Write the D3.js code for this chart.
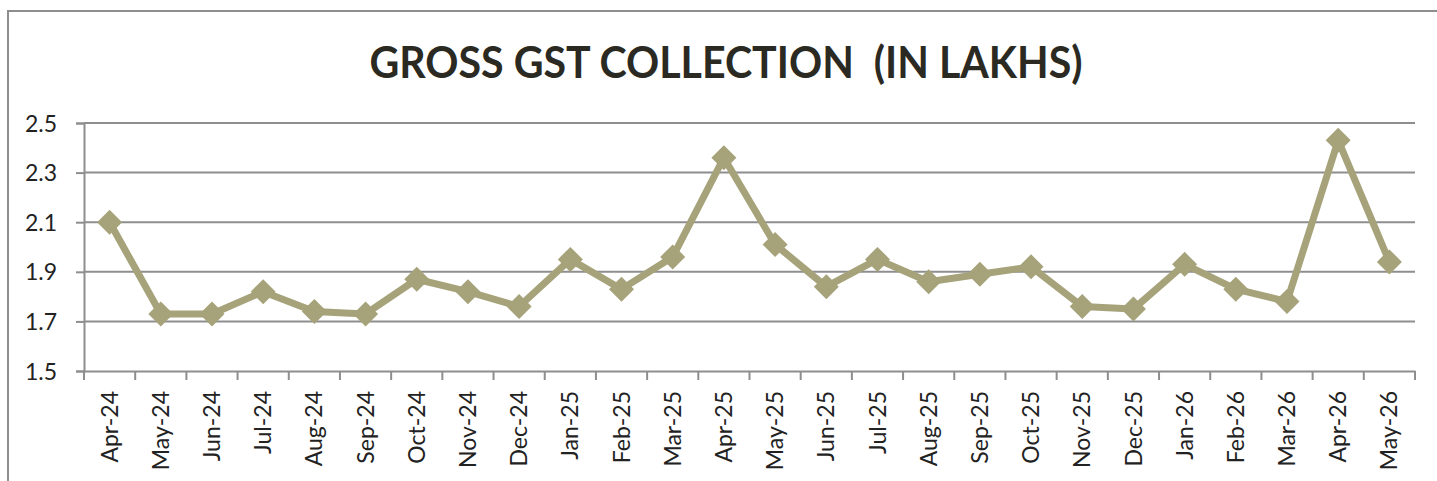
<!DOCTYPE html>
<html>
<head>
<meta charset="utf-8">
<script src="https://cdn.jsdelivr.net/npm/d3@7"></script>
<style>
  html, body { margin: 0; padding: 0; background: #fff; }
  svg { display: block; }
</style>
</head>
<body>
<svg id="chart" width="1437" height="481"></svg>
<script>
const titleText = "GROSS GST COLLECTION  (IN LAKHS)";
const categories = ["Apr-24","May-24","Jun-24","Jul-24","Aug-24","Sep-24","Oct-24","Nov-24","Dec-24",
  "Jan-25","Feb-25","Mar-25","Apr-25","May-25","Jun-25","Jul-25","Aug-25","Sep-25","Oct-25","Nov-25","Dec-25",
  "Jan-26","Feb-26","Mar-26","Apr-26","May-26"];
const values = [2.10,1.73,1.73,1.82,1.74,1.73,1.87,1.82,1.76,
  1.95,1.83,1.96,2.36,2.01,1.84,1.95,1.86,1.89,1.92,1.76,1.75,
  1.93,1.83,1.78,2.43,1.94];
const yTicks = [1.5,1.7,1.9,2.1,2.3,2.5];

const svg = d3.select("#chart");
const W = 1437, H = 481;
const m = {left: 84, right: 1415, top: 123, bottom: 371};
const lineColor = "#a6a27a";
const gridColor = "#8e8e8e";
const font = "Lato, 'Liberation Sans', Arial, sans-serif";

// outer border
svg.append("rect").attr("x", 8).attr("y", 11).attr("width", W + 20).attr("height", H + 20)
  .attr("fill", "none").attr("stroke", "#8e8e8e").attr("stroke-width", 2);

// title
svg.append("text")
  .attr("x", 726).attr("y", 78)
  .attr("text-anchor", "middle")
  .attr("font-family", font).attr("font-weight", "bold").attr("font-size", 43)
  .attr("fill", "#2b2a22")
  .attr("textLength", 713).attr("lengthAdjust", "spacingAndGlyphs")
  .style("white-space", "pre")
  .text(titleText);

const x = d3.scaleBand().domain(categories).range([m.left, m.right]).padding(0);
const y = d3.scaleLinear().domain([1.5, 2.5]).range([m.bottom, m.top]);

// gridlines
svg.append("g").selectAll("line").data(yTicks.filter(t => t > 1.5)).join("line")
  .attr("x1", m.left).attr("x2", m.right)
  .attr("y1", d => y(d)).attr("y2", d => y(d))
  .attr("stroke", gridColor).attr("stroke-width", 2);

// y axis
const yAxis = svg.append("g").attr("transform", `translate(${m.left},0)`)
  .call(d3.axisLeft(y).tickValues(yTicks).tickFormat(d3.format(".1f")).tickSize(8).tickPadding(19));
yAxis.select(".domain").attr("stroke", gridColor).attr("stroke-width", 2);
yAxis.selectAll(".tick line").attr("stroke", gridColor).attr("stroke-width", 2);
yAxis.selectAll(".tick text").attr("font-family", font).attr("font-size", 23).attr("fill", "#222")
  .attr("dy", "0.35em");

// x axis
const xAxis = svg.append("g").attr("transform", `translate(0,${m.bottom})`)
  .call(d3.axisBottom(x).tickSize(0).tickSizeOuter(0));
xAxis.select(".domain").attr("stroke", gridColor).attr("stroke-width", 2);
xAxis.selectAll(".tick line").remove();
xAxis.selectAll(".tick text")
  .attr("font-family", font).attr("font-size", 23).attr("fill", "#222")
  .attr("transform", "rotate(-90)")
  .attr("text-anchor", "end")
  .attr("x", -20).attr("y", 0).attr("dy", "0.35em");
// boundary tick marks
const bounds = categories.map(c => x(c)).concat([x(categories[categories.length - 1]) + x.bandwidth()]);
svg.append("g").selectAll("line").data(bounds).join("line")
  .attr("x1", d => d).attr("x2", d => d)
  .attr("y1", m.bottom).attr("y2", m.bottom + 9)
  .attr("stroke", gridColor).attr("stroke-width", 2);

// line
const cx = d => x(d) + x.bandwidth() / 2;
const line = d3.line().x((d, i) => cx(categories[i])).y(d => y(d));
svg.append("path").datum(values)
  .attr("d", line).attr("fill", "none")
  .attr("stroke", lineColor).attr("stroke-width", 7).attr("stroke-linejoin", "round");

// diamond markers
const r = 12.5;
svg.append("g").selectAll("path").data(values).join("path")
  .attr("d", (d, i) => {
    const px = cx(categories[i]), py = y(d);
    return `M${px},${py - r}L${px + r},${py}L${px},${py + r}L${px - r},${py}Z`;
  })
  .attr("fill", lineColor);
</script>
</body>
</html>
